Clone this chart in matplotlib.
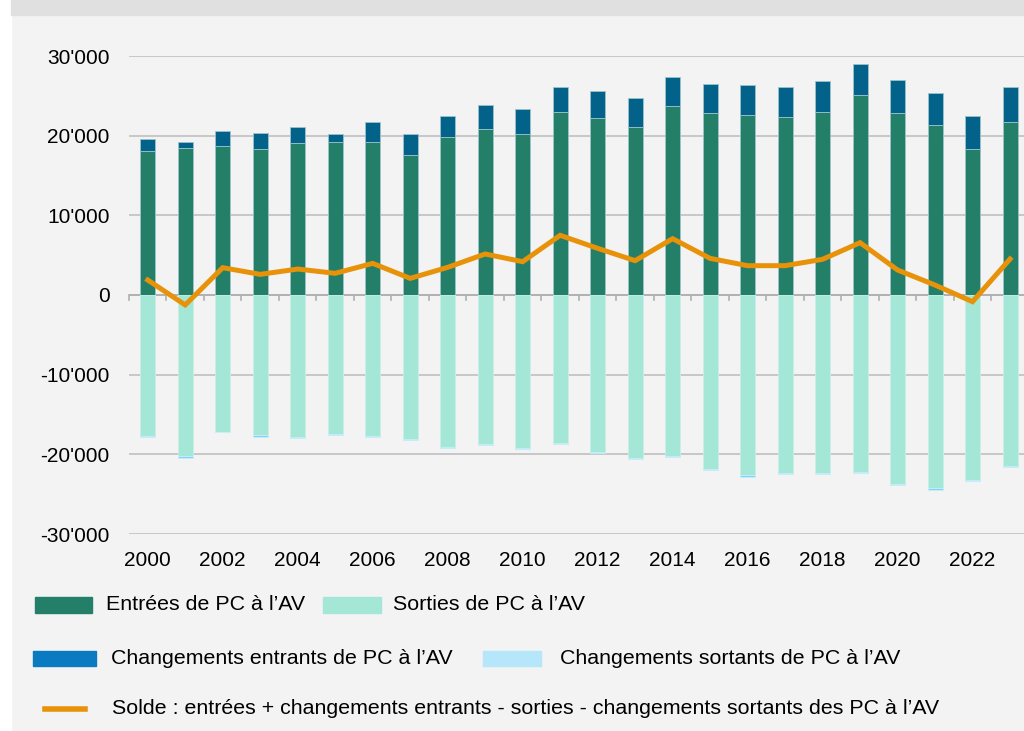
import matplotlib.pyplot as plt
from matplotlib.patches import Rectangle
from matplotlib.lines import Line2D
from matplotlib.ticker import FuncFormatter
import numpy as np

plt.rcParams['font.family'] = ['Liberation Sans', 'DejaVu Sans']

# Data
years = list(range(2000, 2024))
entrees = [18075, 18450, 18660, 18330, 19040, 19160, 19200, 17530, 19790, 20800,
           20210, 22930, 22180, 21050, 23680, 22850, 22550, 22340, 22970, 25150,
           22850, 21300, 18330, 21670]
chg_entrants = [1510, 800, 1920, 1970, 2090, 1050, 2510, 2680, 2640, 3010,
                3140, 3180, 3470, 3680, 3680, 3640, 3810, 3720, 3850, 3810,
                4100, 4100, 4100, 4390]
sorties = [-17650, -20240, -17150, -17570, -17860, -17480, -17650, -18110, -19070, -18650,
           -19150, -18610, -19740, -20450, -20200, -21830, -22590, -22330, -22330, -22170,
           -23670, -24170, -23170, -21410]
chg_sortants = [-120, -210, -40, -210, -80, -90, -120, -80, -120, -130,
                -130, -80, -80, -130, -130, -160, -210, -130, -130, -210,
                -210, -250, -130, -130]
solde = [1880, -1250, 3430, 2590, 3260, 2720, 3970, 2090, 3470, 5150,
         4180, 7490, 5860, 4310, 7070, 4600, 3680, 3680, 4480, 6570,
         3140, 1250, -840, 4520]

labels = ["Entrées de PC à l\u2019AV", "Sorties de PC à l\u2019AV",
          "Changements entrants de PC à l\u2019AV", "Changements sortants de PC à l\u2019AV",
          "Solde : entrées + changements entrants - sorties - changements sortants des PC à l\u2019AV"]

c_green = '#237F68'
c_blue = '#02628A'
c_blue_leg = '#0A7BC0'
c_aqua = '#A5E7D7'
c_lblue = '#7FD2FA'
c_lblue_leg = '#B5E6FA'
c_orange = '#E8920A'
bg = '#F3F3F3'

W, H = 1024, 731
fig = plt.figure(figsize=(W / 100, H / 100), dpi=100, facecolor=bg)

def fx(px):
    return px / W

def fy(py):
    return 1 - py / H

# white strip on the left and grey band on top
fig.add_artist(Rectangle((0, 0), fx(11), 1, transform=fig.transFigure, color='white', zorder=0))
fig.add_artist(Rectangle((fx(11), fy(15)), 1, fy(0) - fy(15), transform=fig.transFigure,
                         color='#E0E0E0', zorder=0))

ax = fig.add_axes([fx(129), fy(534), 1 - fx(129), fy(56) - fy(534)])
ax.set_facecolor(bg)

x = np.arange(len(years))
w = 0.4
edge = dict(edgecolor='#9CC3CC', linewidth=0.6)
ax.bar(x, entrees, w, color=c_green, zorder=3, **edge)
ax.bar(x, chg_entrants, w, bottom=entrees, color=c_blue, zorder=3, **edge)
ax.bar(x, sorties, w, color=c_aqua, zorder=3, edgecolor='#C9EFE6', linewidth=0.6)
ax.bar(x, chg_sortants, w, bottom=sorties, color=c_lblue, zorder=3, edgecolor='#C9EFF9', linewidth=0.6)
ax.plot(x, solde, color=c_orange, lw=3.6, zorder=4, solid_joinstyle='miter')

ax.set_xlim(-0.5, (1024 - 147.5) / 37.5)
ax.set_ylim(-30000, 30000)
ax.set_yticks(range(-30000, 30001, 10000))
ax.yaxis.set_major_formatter(FuncFormatter(lambda v, p: f"{int(v):,}".replace(',', "'")))
ax.grid(axis='y', color='#C4C4C4', lw=1.3, zorder=0)
ax.set_xticks(x[::2])
ax.set_xticklabels([str(y) for y in years[::2]])
ax.tick_params(axis='both', length=0, labelsize=15, colors='#000000')
ax.tick_params(axis='y', pad=14)
ax.tick_params(axis='x', pad=12)
for s in ax.spines.values():
    s.set_visible(False)

# zero axis with small ticks between categories
ax.axhline(0, color='#B0B0B0', lw=1.3, zorder=2)
for b in np.arange(-0.5, len(years), 1.0):
    ax.plot([b, b], [0, -650], color='#B0B0B0', lw=1.2, zorder=2, clip_on=False)

# legend drawn by hand
def patch(x0, x1, y0, y1, color):
    fig.add_artist(Rectangle((fx(x0), fy(y1)), fx(x1) - fx(x0), fy(y0) - fy(y1),
                             transform=fig.transFigure, color=color))

def label(xp, yp, s):
    fig.text(fx(xp), fy(yp), s, fontsize=15.4, va='center', ha='left')

patch(35, 92, 597, 613, c_green)
label(106, 605, labels[0])
patch(323, 381, 597, 613, c_aqua)
label(393, 605, labels[1])
patch(33, 96, 651, 666, c_blue_leg)
label(111, 658, labels[2])
patch(483, 541, 651, 666, c_lblue_leg)
label(560, 658, labels[3])
fig.add_artist(Line2D([fx(45), fx(85)], [fy(709), fy(709)], transform=fig.transFigure,
                      color=c_orange, lw=4))
label(112, 709, labels[4])

fig.savefig('out.png', dpi=100, facecolor=bg)
